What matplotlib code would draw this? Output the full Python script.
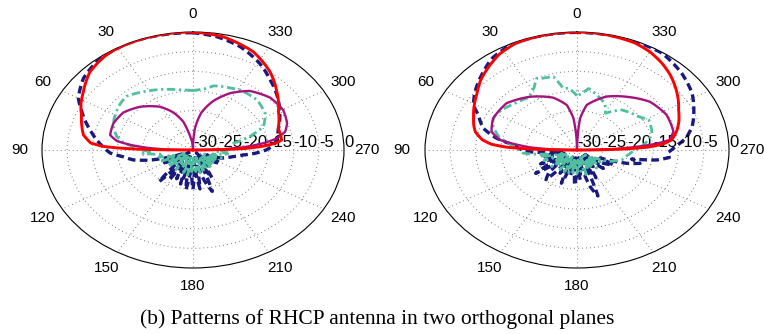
import numpy as np
import matplotlib
matplotlib.use('Agg')
import matplotlib.pyplot as plt

# angles in degrees, counter-clockwise from the top (0 up, 90 left, 270 right); values in dB
# ---- left panel ----
l_red_ang = [0, 10, 20, 30, 35, 40, 46, 56, 62, 68, 74, 80, 85, 87, 88, 89, 89.6, 90,
             180, 270, 271, 272, 274, 276, 278.2, 288, 300, 311.7, 322.5, 334.4, 348.2, 360]
l_red_db = [0, 0, 0, -0.1, -0.3, -0.8, -1.5, -3.7, -4.8, -6.1, -7.0, -7.9, -9.6, -12, -15, -20, -26, -30,
            -30, -30, -25, -20, -16, -13.5, -12.2, -12.2, -10.4, -7.7, -4.9, -2.3, -0.6, 0]

l_navy_ang = [0, 10, 20, 27, 34, 40.5, 50, 60, 66, 73, 78, 82.4, 87, 92.6, 97, 102, 106.6,
              110, 115, 120, 125, 130, 135, 140, 144, 148, 152, 156, 160, 164, 168, 172, 176,
              180, 184, 188, 192, 196, 200, 204, 208, 212, 216, 222, 230, 238, 245, 250, 254,
              258, 262.7, 266, 270, 274, 279, 287, 298.4, 307, 319.3, 329, 340.4, 350.7, 360]
l_navy_db = [-0.2, -0.1, 0, 0, -0.2, -0.5, -1.6, -3.7, -5.8, -8, -9.5, -10.7, -12, -13.5, -16, -17.9, -21,
             -24, -28, -23, -29, -25, -28, -19.5, -27, -21, -28, -22, -29, -21, -27, -19.8, -26,
             -20, -27, -20, -28, -22, -18.8, -27, -22, -28, -25, -29, -26, -23.6, -27, -24, -23,
             -21.9, -20, -17.7, -15.5, -14, -13.2, -12.3, -10.4, -8.8, -6.5, -4.3, -2.1, -0.8, -0.2]

l_teal_ang = [0, 10, 18.7, 26, 33.7, 44, 50, 56, 63, 69.4, 77.4, 82, 86, 92.8, 95, 100, 105, 110, 114,
              118, 122, 126, 130, 134, 138, 142, 146, 150, 154, 158, 162, 166, 170, 174, 178, 182,
              186, 190, 194, 198, 202, 206, 210, 214, 218, 222, 226, 230, 234, 238, 242, 246, 250,
              255, 262, 266, 270, 276, 282, 287, 293, 303, 315.2, 328.5, 335, 341.7, 346, 350.2, 355, 360]
l_teal_db = [-14.9, -14.5, -13.7, -13, -12.2, -11, -11.3, -11.8, -12.4, -13.1, -14.5, -16, -18.1, -21.4, -20, -24, -23, -26, -22.8,
             -28, -24.5, -27, -23.5, -28, -25, -27.5, -24, -28, -25, -27, -24, -28, -23.5, -27, -24, -28,
             -24.5, -27, -24, -28, -24.5, -27, -25, -28, -24, -27, -25, -28, -24.5, -27, -25, -27.5, -24,
             -26, -23, -25.3, -22.5, -22, -21.8, -18.2, -14.8, -12.9, -12, -12.1, -12.6, -12.9, -13.2, -14.1, -14.6, -14.9]

l_purp_ang = [0, 5, 8, 11.4, 15, 22.2, 30.8, 43.7, 55.4, 66.8, 77, 81.4, 84, 86.5, 88.5, 90,
              180, 270, 272, 274, 277, 280, 284.3, 290, 299.5, 311, 323, 333, 342.1, 350, 356, 358, 360]
l_purp_db = [-30, -28, -27, -25.3, -22.6, -19.7, -17.2, -14.8, -13.2, -12.8, -13.1, -14.7, -17.5, -21, -25, -30,
             -30, -30, -24, -20, -16, -13.1, -11.1, -10.1, -9.4, -9.7, -11.2, -13.8, -16.9, -20.3, -24.5, -27, -30]

# ---- right panel ----
r_red_ang = [0, 10, 24, 32, 39.5, 47, 54, 61, 67.5, 73, 77, 82, 85, 87, 88.5, 89.5, 90,
             180, 270, 270.5, 271.5, 273, 275, 278, 284.5, 290, 297, 303, 309.7, 316, 322.7, 330, 337, 350, 360]
r_red_db = [0, -0.05, -0.3, -1.2, -2.6, -4, -5.6, -6.8, -7.9, -8.7, -9.4, -11.1, -13, -16, -21, -26, -30,
            -30, -30, -26, -21, -16, -13, -11.1, -9.6, -8.6, -7.5, -6.2, -4.8, -3.5, -2.3, -1.2, -0.5, -0.1, 0]

r_navy_ang = [0, 18, 26, 35.8, 44.6, 53.6, 60.8, 65.4, 73.4, 79.4, 84, 88, 92, 96, 100, 105, 110, 116,
              121, 126, 131, 136, 141, 146, 150.5, 155, 160, 164, 168.5, 173, 177, 181, 185, 190,
              195.5, 199.5, 203, 208, 213, 217, 222, 228, 233, 237, 242, 246, 251, 254.7, 258, 260.8,
              264, 268, 272.5, 278, 284.7, 293.8, 302.4, 313.3, 325.7, 340, 360]
r_navy_db = [-0.1, -0.1, -0.2, -1.3, -3.2, -5, -6.6, -8.6, -10.7, -13.9, -17.4, -18.5, -20, -24, -27, -23, -28, -22,
             -26, -19.9, -27, -22, -20.3, -27, -23.2, -28, -21, -27, -23.1, -28, -21, -26, -22.4, -28,
             -20.4, -17.6, -27, -22, -28, -24.7, -28, -23, -28, -23.8, -21.9, -25, -19.6, -17.1, -19, -14.1,
             -11.7, -12, -10.6, -8.3, -6.5, -4.8, -3.1, -1.6, -0.2, -0.1, -0.1]

r_teal_ang = [0, 6, 9.8, 14, 21, 23.6, 28, 35, 45.7, 55.5, 62, 68, 77.6, 86, 94.5, 100, 103, 108, 112,
              116, 122, 126, 130, 134, 138, 142, 146, 152, 156, 160, 164, 168, 172, 176, 180, 184,
              188, 192, 196, 200, 204, 208, 212, 216, 220, 224, 228, 232, 236, 240, 245, 250, 254,
              262, 268, 277.2, 286, 298.3, 305, 319, 329, 335, 342.5, 351.6, 356, 360]
r_teal_db = [-16.2, -14.2, -14.1, -10.8, -10.5, -10.1, -12, -13.6, -13, -12, -11.6, -11.9, -14.2, -17.8, -19.4, -24, -22.5, -27, -23,
             -28, -25.2, -27, -23.5, -28, -24.6, -27, -24, -28, -24, -27.5, -24, -28, -23.5, -27, -24, -28,
             -24.5, -27, -23.5, -28, -24.5, -27, -25, -28, -24, -27, -25, -28, -24.5, -26, -23, -22, -20.8,
             -20, -19, -16.4, -14.6, -13.9, -15.2, -16.5, -19.1, -17, -15.8, -14.2, -15.6, -16.2]

r_purp_ang = [0, 2, 5, 10, 19.4, 34.4, 49.5, 64, 74.6, 80.5, 83, 86, 88, 90,
              180, 270, 272, 274, 276, 278, 284, 297, 310.5, 324.1, 336.7, 350.5, 355.7, 358, 360]
r_purp_db = [-30, -27, -21.9, -18.4, -15.9, -13.6, -11.7, -11.6, -12.5, -14.6, -17.5, -21, -25, -30,
             -30, -30, -23, -18, -14, -11.5, -10.4, -10.2, -11.1, -13.3, -15.2, -18.4, -22, -27, -30]

caption = '(b) Patterns of RHCP antenna in two orthogonal planes'

navy = '#1a1a7e'
teal = '#4fbf9f'
purple = '#a5137f'
red = '#ff0000'


def draw_panel(ax, series):
    ax.set_theta_zero_location('N')
    ax.set_theta_direction(1)
    ax.set_aspect('auto')
    for ang, db, style in series:
        ln, = ax.plot(np.deg2rad(ang), np.clip(db, -30, 0), **style)
        # let the polar transform bend each segment along theta/r instead of a chord
        ln._path._interpolation_steps = 12
    ax.set_rlim(-30, 0)
    ax.set_thetagrids(range(0, 360, 30), labels=[])
    ax.set_rgrids([-25, -20, -15, -10, -5], labels=[])
    ax.grid(True, color='0.35', linestyle=(0, (0.6, 3.0)), linewidth=0.8)
    ax.spines['polar'].set_color('black')
    ax.spines['polar'].set_linewidth(0.8)
    for a in range(0, 360, 30):
        ax.text(np.deg2rad(a), 4.5, str(a), ha='center', va='center',
                fontsize=11, family='Liberation Sans', clip_on=False)
    for rv in [-30, -25, -20, -15, -10, -5, 0]:
        ax.text(np.deg2rad(270), rv, str(rv), ha='left', va='bottom',
                fontsize=12, family='Liberation Sans', clip_on=False)


fig = plt.figure(figsize=(7.64, 3.34), dpi=100)
ax1 = fig.add_axes([42 / 764, 66 / 334, 302 / 764, 236 / 334], projection='polar')
ax2 = fig.add_axes([425 / 764, 66 / 334, 304 / 764, 236 / 334], projection='polar')

navy_style = dict(color=navy, lw=2.4, dashes=(2.3, 1.3), zorder=3)
teal_style = dict(color=teal, lw=2.0, dashes=(3.0, 1.3, 0.8, 1.3), zorder=4)
purp_style = dict(color=purple, lw=1.7, zorder=5)
red_style = dict(color=red, lw=2.1, zorder=6)

draw_panel(ax1, [(l_navy_ang, l_navy_db, navy_style),
                 (l_teal_ang, l_teal_db, teal_style),
                 (l_purp_ang, l_purp_db, purp_style),
                 (l_red_ang, l_red_db, red_style)])
draw_panel(ax2, [(r_navy_ang, r_navy_db, navy_style),
                 (r_teal_ang, r_teal_db, teal_style),
                 (r_purp_ang, r_purp_db, purp_style),
                 (r_red_ang, r_red_db, red_style)])

fig.text(377 / 764, 1 - 324 / 334, caption, ha='center', va='baseline',
         fontsize=15.5, family='Liberation Serif')

fig.savefig('out.png', dpi=100)
